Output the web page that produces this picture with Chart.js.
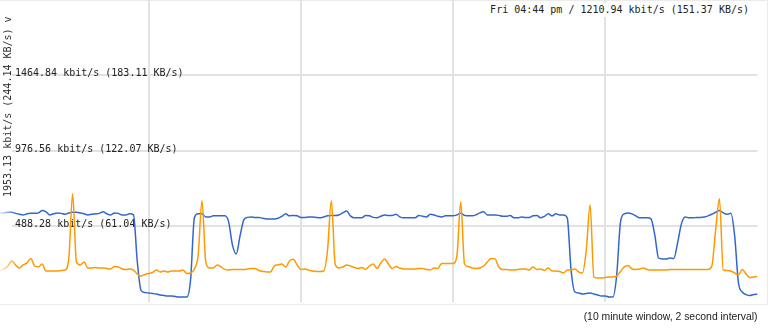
<!DOCTYPE html>
<html>
<head>
<meta charset="utf-8">
<title>Bandwidth</title>
<script src="https://cdn.jsdelivr.net/npm/chart.js@4/dist/chart.umd.min.js"></script>
<style>
  html, body { margin: 0; padding: 0; background: #fff; }
  #wrap { position: relative; width: 772px; height: 328px; overflow: hidden; }
  #frame { position: absolute; left: 0; top: 0; width: 767px; height: 303px; border: 1px solid #ebebeb; border-left: none; }
  #chart { position: absolute; left: 0; top: 0; }
  #ytitle { position: absolute; left: 2px; top: 197px; transform-origin: 0 0; transform: rotate(-90deg);
            font: 10px "DejaVu Sans Mono", monospace; line-height: 12px; color: #333; white-space: nowrap; }
  #now { position: absolute; right: 21px; top: 3px; background: #fff; padding: 0 2px;
         font: 10px "DejaVu Sans Mono", monospace; line-height: 14px; color: #222; white-space: nowrap; }
</style>
</head>
<body>
<div id="wrap">
  <div id="frame"></div>
  <canvas id="chart" width="772" height="328"></canvas>
  <div id="ytitle"></div>
  <div id="now"></div>
</div>
<script>
const qs = (sel) => document.querySelector(sel);

// 10 minute window, one sample every 3 s
const sampleSeconds = 3;
const windowSeconds = 600;
const visibleFrom = 12.2;          // first seconds sit under the axis label strip
const gridSeconds = [120, 240, 360, 480];

const yMax = 1953.125;
const yTicks = [488.28125, 976.5625, 1464.84375];

const hoverTime = "Fri 04:44 pm";
const hoverValue = 1210.94;

// kbit/s
const download = [
  574, 574, 574, 578, 578, 571, 565, 561, 568, 571,
  571, 574, 589, 581, 561, 568, 574, 571, 565, 574,
  578, 578, 574, 568, 561, 565, 568, 571, 581, 568,
  561, 574, 571, 561, 561, 568, 561, 256, 71, 58,
  55, 52, 49, 42, 39, 36, 36, 32, 29, 29,
  29, 140, 542, 568, 568, 548, 548, 555, 555, 555,
  555, 516, 367, 308, 425, 529, 545, 548, 545, 545,
  539, 535, 535, 535, 539, 552, 568, 555, 558, 555,
  545, 545, 548, 548, 545, 542, 548, 555, 558, 558,
  561, 574, 587, 555, 542, 542, 542, 558, 555, 545,
  542, 552, 561, 558, 558, 565, 548, 542, 542, 542,
  542, 558, 552, 548, 565, 561, 552, 548, 555, 555,
  555, 561, 571, 558, 555, 555, 561, 574, 581, 561,
  561, 561, 558, 552, 552, 558, 542, 542, 548, 545,
  545, 555, 558, 542, 552, 568, 555, 568, 561, 561,
  542, 204, 62, 55, 49, 52, 55, 49, 42, 36,
  36, 29, 29, 172, 516, 568, 574, 568, 555, 542,
  542, 542, 535, 432, 282, 276, 276, 282, 279, 380,
  503, 548, 542, 542, 545, 545, 548, 555, 565, 578,
  590, 574, 565, 571, 425, 120, 62, 45, 39, 45,
  49
];

const upload = [
  204, 204, 211, 230, 263, 237, 217, 237, 250, 279,
  230, 224, 243, 198, 198, 198, 198, 201, 204, 282,
  698, 256, 237, 256, 217, 217, 221, 217, 217, 214,
  211, 227, 224, 211, 208, 211, 204, 178, 165, 175,
  182, 188, 204, 191, 198, 191, 198, 198, 198, 204,
  182, 185, 211, 302, 652, 256, 217, 217, 237, 224,
  208, 204, 208, 208, 208, 208, 211, 214, 214, 201,
  195, 191, 191, 230, 237, 243, 224, 263, 273, 237,
  208, 211, 204, 198, 195, 195, 198, 334, 652, 243,
  217, 224, 237, 230, 221, 214, 221, 208, 230, 243,
  214, 250, 276, 243, 214, 227, 217, 211, 211, 211,
  211, 214, 214, 208, 204, 217, 214, 247, 247, 247,
  247, 295, 646, 243, 227, 217, 214, 217, 230, 256,
  279, 276, 224, 208, 208, 204, 204, 208, 211, 211,
  204, 224, 208, 211, 201, 217, 198, 198, 195, 185,
  204, 204, 211, 191, 185, 334, 626, 159, 152, 152,
  156, 159, 159, 165, 195, 224, 234, 211, 208, 211,
  217, 208, 204, 204, 204, 204, 204, 208, 208, 208,
  208, 208, 208, 208, 208, 208, 208, 208, 230, 464,
  665, 204, 201, 198, 185, 172, 208, 178, 156, 159,
  162
];

const fmt = (v) => `${v.toFixed(2)} kbit/s (${(v / 8).toFixed(2)} KB/s)`;
const points = (arr) => arr.map((v, i) => ({ x: i * sampleSeconds, y: v }));

// lines fade in under the label strip on the left
function fadeIn(rgb) {
  return (ctx) => {
    const area = ctx.chart.chartArea;
    if (!area) return `rgb(${rgb})`;
    const g = ctx.chart.ctx.createLinearGradient(area.left - 12, 0, area.left + 4, 0);
    g.addColorStop(0, `rgba(${rgb},0.15)`);
    g.addColorStop(1, `rgba(${rgb},1)`);
    return g;
  };
}

function line(data, rgb) {
  return {
    data: points(data),
    borderColor: fadeIn(rgb),
    borderWidth: 1.5,
    pointRadius: 0,
    fill: false,
    cubicInterpolationMode: "monotone",
    clip: { left: 16, top: 0, right: 0, bottom: 0 }
  };
}

function init() {
  qs("#ytitle").textContent = fmt(yMax) + " v";
  qs("#now").textContent = `${hoverTime} / ${fmt(hoverValue)}`;

  const gridColor = "#e2e2e2";
  new Chart(qs("#chart").getContext("2d"), {
    type: "line",
    data: {
      datasets: [
        line(upload, "255,153,0"),
        line(download, "51,102,204")
      ]
    },
    options: {
      responsive: false,
      animation: false,
      devicePixelRatio: 1,
      events: [],
      layout: { padding: { top: 0, right: 14.5, bottom: 0, left: 0 } },
      plugins: { legend: { display: false }, tooltip: { enabled: false } },
      scales: {
        x: {
          type: "linear",
          bounds: "data",
          afterDataLimits: (s) => { s.min = visibleFrom; s.max = windowSeconds; },
          afterBuildTicks: (s) => { s.ticks = gridSeconds.map(v => ({ value: v })); },
          afterFit: (s) => { s.paddingLeft = 0; s.paddingRight = 0; },
          ticks: { display: false },
          grid: { color: gridColor, lineWidth: 2, drawTicks: false },
          border: { display: false },
          title: {
            display: true,
            text: "(10 minute window, 2 second interval)",
            align: "end",
            color: "#222",
            font: { family: "Liberation Sans", size: 10.4 },
            padding: { top: 9.5, bottom: 4.5 }
          }
        },
        y: {
          min: 0,
          max: yMax,
          // mirrored labels sit inside the plot: no extra room above or below
          afterFit: (s) => { s.width = 12; s.paddingTop = 0; s.paddingBottom = 0; },
          afterBuildTicks: (s) => { s.ticks = yTicks.map(v => ({ value: v })); },
          ticks: {
            mirror: true,
            padding: 3,
            labelOffset: -1.5,
            color: "#222",
            font: { family: "DejaVu Sans Mono", size: 10 },
            callback: (v) => fmt(v)
          },
          grid: { color: gridColor, lineWidth: 2, drawTicks: false },
          border: { display: false }
        }
      }
    }
  });
}

document.addEventListener("DOMContentLoaded", init);
</script>
</body>
</html>
